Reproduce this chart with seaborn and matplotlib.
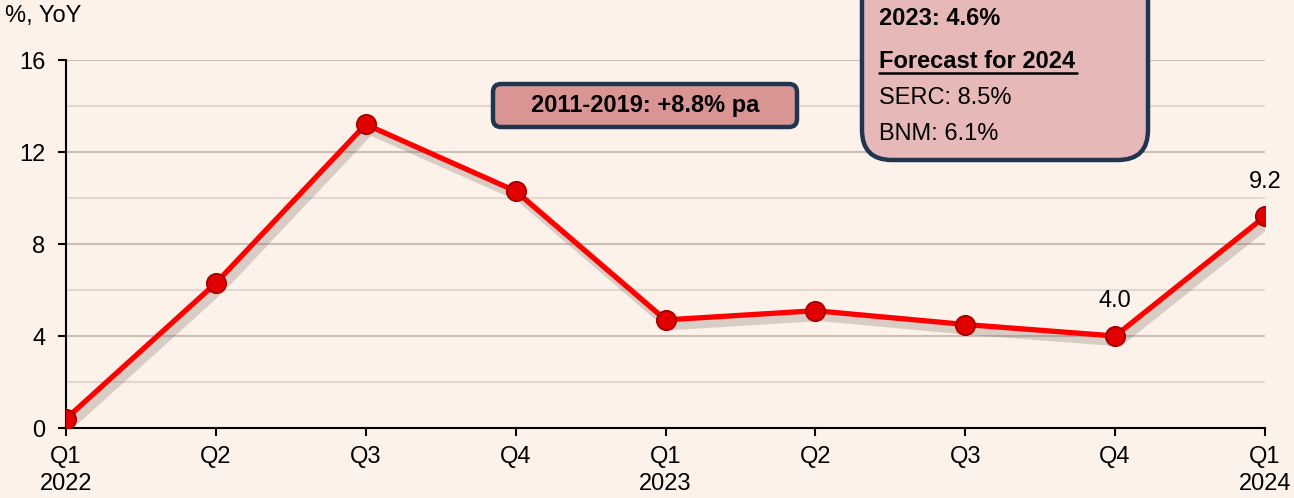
import matplotlib
matplotlib.use("Agg")
import matplotlib.pyplot as plt
import matplotlib.patheffects as pe
from matplotlib.patches import FancyBboxPatch
from matplotlib.lines import Line2D
import seaborn as sns
import pandas as pd

# quarterly growth, % YoY
quarters = ["Q1\n2022", "Q2", "Q3", "Q4", "Q1\n2023", "Q2", "Q3", "Q4", "Q1\n2024"]
growth = [0.4, 6.3, 13.2, 10.3, 4.7, 5.1, 4.5, 4.0, 9.2]
labelled = {7: "4.0", 8: "9.2"}
y_ticks = [0, 4, 8, 12, 16]
y_minor = [2, 6, 10, 14]

box_avg = "2011-2019: +8.8% pa"
box_lines = ["2023: 4.6%", "Forecast for 2024", "SERC: 8.5%", "BNM: 6.1%"]

BG = "#FDF2EA"
RED = "#FF0000"
NAVY = "#1F3550"
FS = 17

sns.set_style("ticks")
plt.rcParams["font.family"] = ["Liberation Sans", "DejaVu Sans"]
plt.rcParams["font.size"] = FS
plt.rcParams["text.color"] = "black"
plt.rcParams["xtick.color"] = "black"
plt.rcParams["ytick.color"] = "black"

fig = plt.figure(figsize=(12.94, 4.98), dpi=100, facecolor=BG)
ax = fig.add_axes([66 / 1294, 70 / 498, 1199 / 1294, 368 / 498])
ax.set_facecolor(BG)

frame = pd.DataFrame({"x": range(len(growth)), "y": growth})

# gridlines
for v in y_minor:
    ax.axhline(v, color="#E2D8D0", lw=1.5, zorder=0)
for v in y_ticks[1:]:
    ax.axhline(v, color="#C9BFB7", lw=1.5, zorder=0)

# line with soft shadow, then markers on top
sns.lineplot(data=frame, x="x", y="y", ax=ax, color=RED, lw=3.8, zorder=4,
             path_effects=[pe.SimpleLineShadow(offset=(3, -4), shadow_color="#6E5E55", alpha=0.25, linewidth=7),
                           pe.Normal()])
sns.lineplot(data=frame, x="x", y="y", ax=ax, color=RED, lw=0, zorder=5,
             marker="o", markersize=14, markerfacecolor="#E00000",
             markeredgecolor="#A00000", markeredgewidth=1.2)

for i, txt in labelled.items():
    ax.annotate(txt, (i, growth[i]), xytext=(0, 17), textcoords="offset points",
                ha="center", va="bottom", fontsize=FS)

ax.set_xlim(0, len(growth) - 1)
ax.set_ylim(0, 16)
ax.set_yticks(y_ticks)
ax.set_xticks(range(len(quarters)))
ax.set_xticklabels(quarters, linespacing=1.3)
ax.set_xlabel("")
ax.set_ylabel("")
ax.tick_params(axis="both", colors="black", labelcolor="black", labelsize=FS, length=6, width=1.5)
ax.tick_params(axis="y", pad=9)
ax.tick_params(axis="x", pad=7)
for s in ["top", "right"]:
    ax.spines[s].set_visible(False)
for s in ["left", "bottom"]:
    ax.spines[s].set_color("black")
    ax.spines[s].set_linewidth(1.5)

fig.text(5 / 1294, 1 - 16 / 498, "%, YoY", ha="left", va="center", fontsize=FS)

# average growth box
tr = fig.dpi_scale_trans
box1 = FancyBboxPatch((4.95, 3.73), 3.00, 0.39, boxstyle="round,pad=0.02,rounding_size=0.08",
                      transform=tr, facecolor="#D99594", edgecolor=NAVY, lw=3.2, zorder=10)
fig.patches.append(box1)
fig.text(6.45, 3.925, box_avg, transform=tr, ha="center", va="center",
         fontsize=FS, fontweight="bold", zorder=11)

# forecast box
box2 = FancyBboxPatch((8.62, 3.38), 2.86, 2.2, boxstyle="round,pad=0.0,rounding_size=0.3",
                      transform=tr, facecolor="#E6B8B7", edgecolor=NAVY, lw=3.2, zorder=10)
fig.patches.append(box2)
ys = [4.80, 4.37, 4.00, 3.64]
for j, (txt, yy) in enumerate(zip(box_lines, ys)):
    fig.text(8.79, yy, txt, transform=tr, ha="left", va="center", fontsize=FS,
             fontweight="bold" if j < 2 else "normal", zorder=11)
fig.lines.append(Line2D([8.79, 10.77], [4.255, 4.255], transform=tr, color="black", lw=1.8, zorder=11))

fig.savefig("out.png", dpi=100, facecolor=BG)
